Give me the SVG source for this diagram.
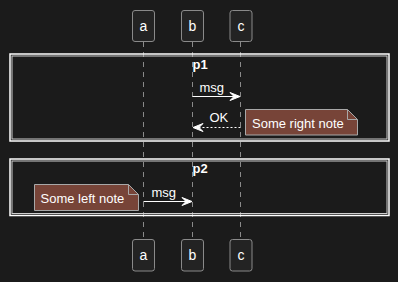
<svg xmlns="http://www.w3.org/2000/svg" width="398" height="282" viewBox="0 0 398 282">
<style>
text{font-family:"Liberation Sans",Arial,sans-serif;fill:#ffffff}
.pbox{fill:#232323;stroke:#8a8a8a;stroke-width:1}
.plabel{font-size:14px;text-anchor:middle}
.life{stroke:#8a8a8a;stroke-width:1;stroke-dasharray:5,5}
.frame{fill:none;stroke:#ffffff;stroke-width:1.5}
.frame2{fill:none;stroke:#cfcfcf;stroke-width:1}
.title{font-size:13px;font-weight:bold}
.msg{stroke:#ffffff;stroke-width:1;fill:none}
.dash{stroke-dasharray:2,2}
.head{fill:#ffffff;stroke:#ffffff;stroke-width:1}
.mlabel{font-size:13px}
.note{fill:#774438;stroke:#a8a8a8;stroke-width:1}
.fold{fill:none;stroke:#a8a8a8;stroke-width:1}
</style>
<rect width="398" height="282" fill="#1b1b1b"/>
<g id="lifelines">
<line class="life" x1="143.5" y1="42" x2="143.5" y2="239"/>
<line class="life" x1="192.5" y1="42" x2="192.5" y2="239"/>
<line class="life" x1="240.5" y1="42" x2="240.5" y2="239"/>
</g>
<g id="a">
<rect class="pbox" x="132.5" y="10.5" width="22" height="31" rx="2.5"/>
<text class="plabel" x="143.5" y="31">a</text>
<rect class="pbox" x="132.5" y="239.5" width="22" height="31.5" rx="2.5"/>
<text class="plabel" x="143.5" y="260">a</text>
</g>
<g id="b">
<rect class="pbox" x="181.5" y="10.5" width="22" height="31" rx="2.5"/>
<text class="plabel" x="192.5" y="31">b</text>
<rect class="pbox" x="181.5" y="239.5" width="22" height="31.5" rx="2.5"/>
<text class="plabel" x="192.5" y="260">b</text>
</g>
<g id="c">
<rect class="pbox" x="230" y="10.5" width="22" height="31" rx="2.5"/>
<text class="plabel" x="241" y="31">c</text>
<rect class="pbox" x="230" y="239.5" width="22" height="31.5" rx="2.5"/>
<text class="plabel" x="241" y="260">c</text>
</g>
<g id="p1">
<rect class="frame" x="10" y="54" width="379" height="87"/>
<rect class="frame2" x="12" y="56" width="375" height="83"/>
<text class="title" x="192.5" y="69">p1</text>
</g>
<g id="p2">
<rect class="frame" x="10" y="159" width="379" height="56.5"/>
<rect class="frame2" x="12" y="161" width="375" height="52.5"/>
<text class="title" x="192.5" y="173">p2</text>
</g>
<g id="note-right">
<path class="note" d="M245.5,109.5 H347.5 L357.5,119.5 V135 H245.5 Z"/>
<path class="fold" d="M347.5,109.5 V119.5 H357.5"/>
<text class="mlabel" x="252" y="128">Some right note</text>
</g>
<g id="note-left">
<path class="note" d="M34.5,184.5 H128.5 L138.5,194.5 V210.5 H34.5 Z"/>
<path class="fold" d="M128.5,184.5 V194.5 H138.5"/>
<text class="mlabel" x="40.5" y="203">Some left note</text>
</g>
<g id="connectors">
<line class="msg" x1="192.5" y1="96.5" x2="238.5" y2="96.5"/>
<path class="head" d="M240,96.5 L230,92.5 L234,96.5 L230,100.5 Z"/>
<text class="mlabel" x="199.5" y="92">msg</text>
<line class="msg dash" x1="240.5" y1="127.5" x2="194.5" y2="127.5"/>
<path class="head" d="M193,127.5 L203,123.5 L199,127.5 L203,131.5 Z"/>
<text class="mlabel" x="209.5" y="122">OK</text>
<line class="msg" x1="143.5" y1="201.5" x2="190.5" y2="201.5"/>
<path class="head" d="M192,201.5 L182,197.5 L186,201.5 L182,205.5 Z"/>
<text class="mlabel" x="151.5" y="197">msg</text>
</g>
</svg>
